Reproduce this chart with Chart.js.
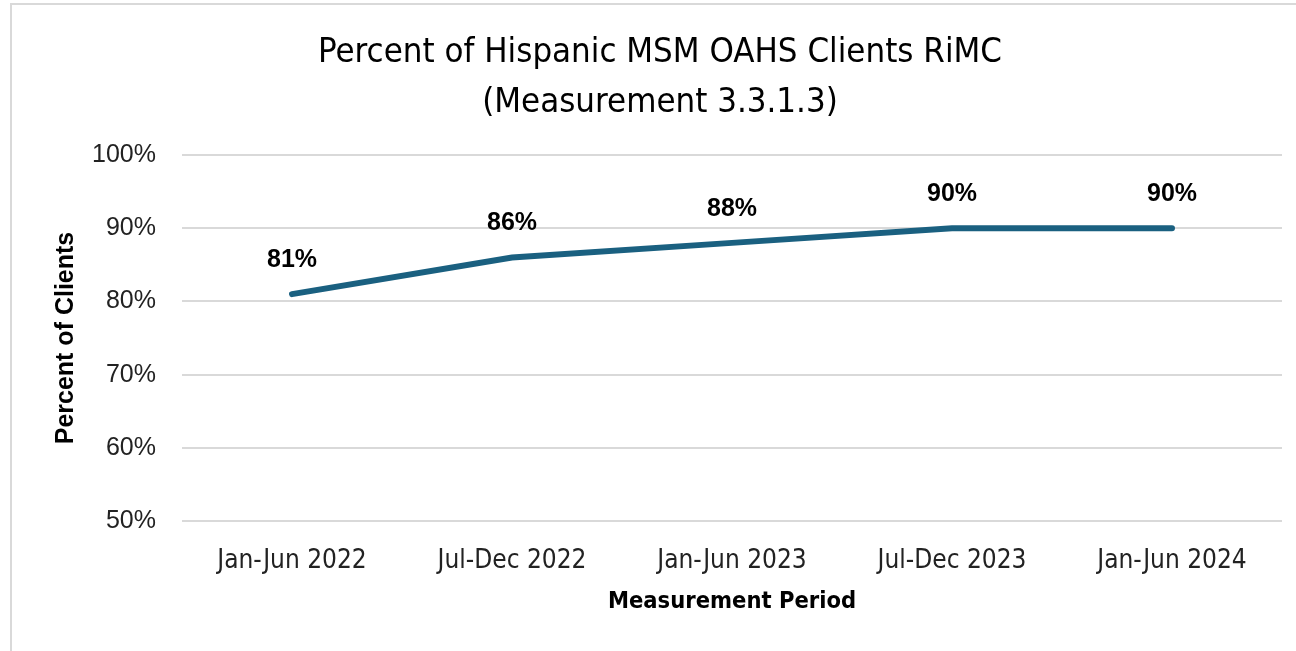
<!DOCTYPE html>
<html>
<head>
<meta charset="utf-8">
<script src="https://cdn.jsdelivr.net/npm/chart.js@4.4.1/dist/chart.umd.min.js"></script>
<style>
  html, body { margin: 0; padding: 0; background: #fff; }
  #wrap { position: relative; width: 1296px; height: 651px; overflow: hidden; }
  #frame { position: absolute; left: 10px; top: 3px; width: 1300px; height: 700px; border-left: 2px solid #d9d9d9; border-top: 2px solid #d9d9d9; box-sizing: border-box; }
  canvas { position: absolute; left: 0; top: 0; }
</style>
</head>
<body>
<div id="wrap">
  <div id="frame"></div>
  <canvas id="chart" width="1296" height="651"></canvas>
</div>
<script>
const periods = ['Jan-Jun 2022', 'Jul-Dec 2022', 'Jan-Jun 2023', 'Jul-Dec 2023', 'Jan-Jun 2024'];
const percentRiMC = [81, 86, 88, 90, 90];
const yTicks = [50, 60, 70, 80, 90, 100];

const narrow = "'Liberation Sans Narrow', 'DejaVu Sans Condensed', sans-serif";
const plain = "'Liberation Sans', Arial, sans-serif";

// value labels above each point
const pointLabels = {
  id: 'pointLabels',
  afterDatasetsDraw(chart) {
    const { ctx } = chart;
    const meta = chart.getDatasetMeta(0);
    ctx.save();
    ctx.font = `bold 25px ${plain}`;
    ctx.fillStyle = '#000';
    ctx.textAlign = 'center';
    ctx.textBaseline = 'middle';
    meta.data.forEach((pt, i) => {
      ctx.fillText(percentRiMC[i] + '%', pt.x, pt.y - 34);
    });
    ctx.restore();
  }
};

new Chart(document.getElementById('chart'), {
  type: 'line',
  data: {
    labels: periods,
    datasets: [{
      data: percentRiMC,
      borderColor: '#1a6080',
      borderWidth: 6,
      borderCapStyle: 'round',
      pointRadius: 0,
      tension: 0,
    }],
  },
  options: {
    responsive: false,
    animation: false,
    layout: { padding: { left: 38, right: 14, top: 0, bottom: 0 } },
    plugins: {
      legend: { display: false },
      tooltip: { enabled: false },
      title: {
        display: true,
        text: ['Percent of Hispanic MSM OAHS Clients RiMC', '(Measurement 3.3.1.3)'],
        color: '#000',
        font: { family: narrow, size: 34.5, weight: 'normal', lineHeight: 1.45 },
        padding: { top: 28, bottom: 27 },
      },
    },
    scales: {
      x: {
        offset: true,
        grid: { display: false },
        border: { display: false },
        ticks: { color: '#222', font: { family: narrow, size: 26 }, padding: 17, maxRotation: 0 },
        title: { display: true, text: 'Measurement Period', color: '#000', font: { family: narrow, size: 23.5, weight: 'bold' }, padding: { top: 0, bottom: 35 } },
        afterFit(scale) { scale.height = 130; },
      },
      y: {
        min: 50, max: 100,
        afterBuildTicks(scale) { scale.ticks = yTicks.map(v => ({ value: v })); },
        grid: { color: '#d9d9d9', lineWidth: 2, drawTicks: false },
        border: { display: false },
        ticks: { color: '#222', font: { family: plain, size: 25 }, padding: 26, callback: v => v + '%' },
        title: { display: true, text: 'Percent of Clients', color: '#000', font: { family: plain, size: 25, weight: 'bold' }, padding: { top: 13 } },
        afterFit(scale) { scale.width = 144; },
      },
    },
  },
  plugins: [pointLabels],
});
</script>
</body>
</html>
